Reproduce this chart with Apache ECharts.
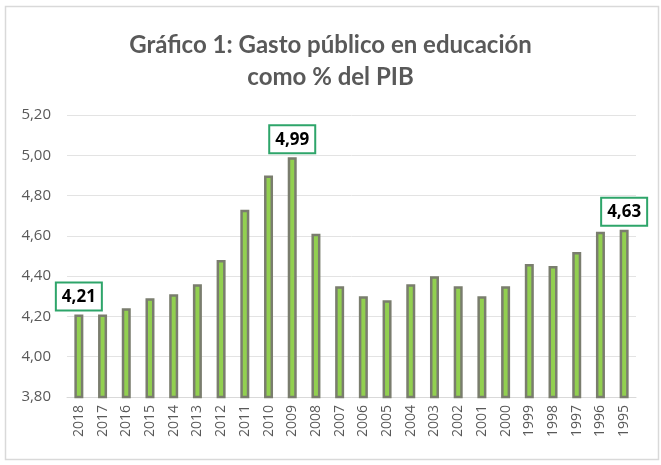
<!DOCTYPE html>
<html>
<head>
<meta charset="utf-8">
<script src="https://cdn.jsdelivr.net/npm/echarts@6/dist/echarts.min.js"></script>
<style>
  html, body { margin: 0; padding: 0; background: #fff; }
  #chart { width: 661px; height: 465px; }
</style>
</head>
<body>
<div id="chart"></div>
<script>
// años y gasto en educación (% del PIB)
const years = ['2018', '2017', '2016', '2015', '2014', '2013', '2012', '2011', '2010', '2009', '2008', '2007',
  '2006', '2005', '2004', '2003', '2002', '2001', '2000', '1999', '1998', '1997', '1996', '1995']
const gasto = [4.21, 4.21, 4.24, 4.29, 4.31, 4.36, 4.48, 4.73, 4.90, 4.99, 4.61, 4.35,
  4.30, 4.28, 4.36, 4.40, 4.35, 4.30, 4.35, 4.46, 4.45, 4.52, 4.62, 4.63]
// años con etiqueta de valor
const labeled = ['2018', '2009', '1995']

const chart = echarts.init(document.getElementById('chart'))

const seriesData = gasto.map((v, i) => {
  const item = { value: v }
  if (labeled.includes(years[i])) {
    item.label = { show: true }
  }
  return item
})

const option = {
  animation: false,
  graphic: [{
    type: 'rect',
    shape: { x: 5.5, y: 6.5, width: 653, height: 453 },
    style: { fill: 'none', stroke: '#d9d9d9', lineWidth: 1.5 },
    silent: true
  }],
  title: {
    text: 'Gráfico 1: Gasto público en educación\ncomo % del PIB',
    left: 'center',
    top: 24,
    textStyle: {
      fontFamily: 'Lato',
      fontWeight: 'bold',
      fontSize: 24,
      lineHeight: 32,
      color: '#595959'
    }
  },
  grid: { left: 67, right: 25, top: 115, bottom: 68 },
  xAxis: {
    type: 'category',
    data: years,
    axisTick: { show: false },
    axisLine: { lineStyle: { color: '#d9d9d9' } },
    axisLabel: {
      rotate: 90,
      interval: 0,
      margin: 8,
      fontFamily: 'Open Sans',
      fontSize: 14,
      color: '#595959'
    }
  },
  yAxis: {
    type: 'value',
    min: 3.8,
    max: 5.2,
    interval: 0.2,
    axisLine: { show: false },
    axisTick: { show: false },
    splitLine: { lineStyle: { color: '#e3e3e3' } },
    axisLabel: {
      margin: 16,
      fontFamily: 'Open Sans',
      fontSize: 15,
      color: '#595959',
      formatter: v => v.toFixed(2).replace('.', ',')
    }
  },
  series: [{
    type: 'bar',
    data: seriesData,
    barWidth: 9,
    itemStyle: {
      color: '#92d050',
      borderColor: '#7a7d6e',
      borderWidth: 2.5
    },
    label: {
      show: false,
      position: 'top',
      distance: 5,
      formatter: p => p.value.toFixed(2).replace('.', ','),
      fontFamily: 'Open Sans',
      fontWeight: 'bold',
      fontSize: 17,
      color: '#000',
      backgroundColor: '#fff',
      borderColor: '#2ea56a',
      borderWidth: 2,
      padding: [5, 5, 4, 5]
    }
  }]
}

chart.setOption(option)
</script>
</body>
</html>
